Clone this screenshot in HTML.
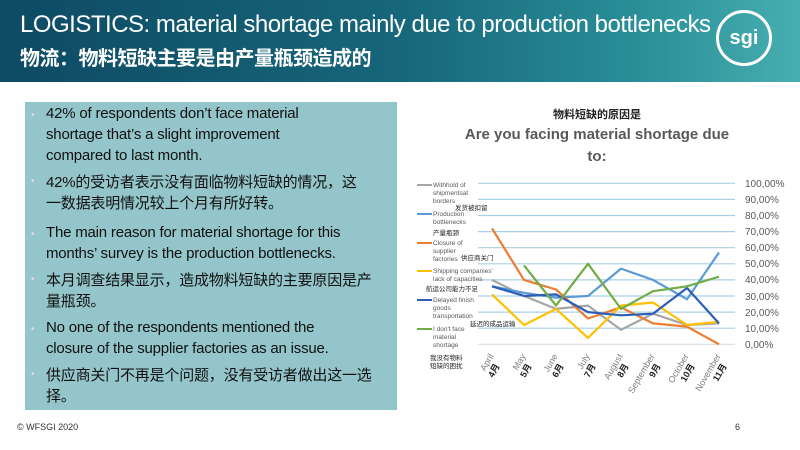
<!DOCTYPE html>
<html><head><meta charset="utf-8"><style>
body{margin:0;width:800px;height:450px;overflow:hidden;background:#fff;font-family:"Liberation Sans","Noto Sans CJK SC",sans-serif;position:relative}
.ban{position:absolute;left:0;top:0;width:800px;height:82px;background:linear-gradient(90deg,#0d4a63 0%,#17667a 50%,#2a8f98 80%,#47aeb1 100%)}
.t1{position:absolute;left:20px;top:11px;color:#fff;font-size:24px;letter-spacing:-0.5px;white-space:nowrap}
.t2{position:absolute;left:20px;top:42px;color:#fff;font-size:20px;font-weight:bold;font-family:"Noto Sans CJK SC",sans-serif;white-space:nowrap;letter-spacing:-0.5px}
.logo{position:absolute;left:716px;top:10px;width:56px;height:56px;border-radius:50%;border:3px solid #fff;box-sizing:border-box;color:#fff;font-weight:bold;font-size:20px;text-align:center;line-height:50px}
.box{position:absolute;left:25px;top:102px;width:372px;height:308px;background:#93c5ca}
.ln{position:absolute;left:46px;font-size:15px;color:#111;white-space:nowrap;letter-spacing:-0.2px}
.b{position:absolute;left:31px;font-size:10px;color:#ddd}
.foot{position:absolute;left:17px;top:422px;font-size:9px;color:#333}
</style></head><body>
<div class="ban"></div>
<div class="t1">LOGISTICS: material shortage mainly due to production bottlenecks</div>
<div class="t2">物流：物料短缺主要是由产量瓶颈造成的</div>
<div class="logo">sgi</div>
<div class="box"></div>
<div class="b" style="top:110px">•</div><div class="b" style="top:176px">•</div><div class="b" style="top:229px">•</div><div class="b" style="top:274px">•</div><div class="b" style="top:324px">•</div><div class="b" style="top:369px">•</div>
<div class="ln" style="top:105px">42% of respondents don’t face material</div>
<div class="ln" style="top:126px">shortage that’s a slight improvement</div>
<div class="ln" style="top:147px">compared to last month.</div>
<div class="ln" style="top:171px">42%的受访者表示没有面临物料短缺的情况，这</div>
<div class="ln" style="top:192px">一数据表明情况较上个月有所好转。</div>
<div class="ln" style="top:224px">The main reason for material shortage for this</div>
<div class="ln" style="top:245px">months’ survey is the production bottlenecks.</div>
<div class="ln" style="top:269px">本月调查结果显示，造成物料短缺的主要原因是产</div>
<div class="ln" style="top:290px">量瓶颈。</div>
<div class="ln" style="top:319px">No one of the respondents mentioned the</div>
<div class="ln" style="top:340px">closure of the supplier factories as an issue.</div>
<div class="ln" style="top:364px">供应商关门不再是个问题，没有受访者做出这一选</div>
<div class="ln" style="top:385px">择。</div>
<div class="foot">© WFSGI 2020</div>
<div class="foot" style="left:735px">6</div>
<svg style="position:absolute;left:0;top:0" width="800" height="450" font-family="Liberation Sans, Noto Sans CJK SC, sans-serif">
<text x="597" y="118" font-size="11" font-weight="bold" text-anchor="middle" fill="#222">物料短缺的原因是</text>
<text x="597" y="139" font-size="15" font-weight="bold" text-anchor="middle" fill="#595959">Are you facing material shortage due</text>
<text x="597" y="161" font-size="15" font-weight="bold" text-anchor="middle" fill="#595959">to:</text>
<g stroke="#a9d0e6" stroke-width="1.2">
<line x1="478" x2="735" y1="183.3" y2="183.3"/><line x1="478" x2="735" y1="199.4" y2="199.4"/><line x1="478" x2="735" y1="215.5" y2="215.5"/><line x1="478" x2="735" y1="231.6" y2="231.6"/><line x1="478" x2="735" y1="247.7" y2="247.7"/><line x1="478" x2="735" y1="263.8" y2="263.8"/><line x1="478" x2="735" y1="279.9" y2="279.9"/><line x1="478" x2="735" y1="296" y2="296"/><line x1="478" x2="735" y1="312.1" y2="312.1"/><line x1="478" x2="735" y1="328.2" y2="328.2"/><line x1="478" x2="735" y1="344.3" y2="344.3" stroke="#ddd"/>
</g>
<g font-size="10" fill="#595959">
<text x="745" y="187">100,00%</text><text x="745" y="203">90,00%</text><text x="745" y="219">80,00%</text><text x="745" y="235">70,00%</text><text x="745" y="251">60,00%</text><text x="745" y="267">50,00%</text><text x="745" y="283">40,00%</text><text x="745" y="300">30,00%</text><text x="745" y="316">20,00%</text><text x="745" y="332">10,00%</text><text x="745" y="348">0,00%</text>
</g>
<g fill="none" stroke-width="2.2" stroke-linejoin="round">
<polyline stroke="#a5a5a5" points="492,279.9 524,296 556,308.9 588,305.6 621,329.8 653,313.7 687,325 719,323.4"/>
<polyline stroke="#5b9bd5" points="492,286.3 524,292.8 556,297.6 588,296 621,268.6 653,279.9 687,299.2 719,252.5"/>
<polyline stroke="#ed7d31" points="492,228.4 524,279.9 556,289.5 588,318.5 621,307.3 653,323.4 687,326.6 719,344.3"/>
<polyline stroke="#ffc000" points="492,294.4 524,325 556,308.9 588,337.9 621,305.6 653,302.5 687,325 719,321.8"/>
<polyline stroke="#2e5fb8" points="492,286.3 524,296 556,294.4 588,312.1 621,315.3 653,313.7 687,288 719,323.4"/>
<polyline stroke="#70ad47" points="524,265.4 556,305.6 588,263.8 621,308.9 653,291.2 687,286.3 719,276.7"/>
</g>
<g font-size="6.5" fill="#595959">
<line x1="417" x2="432" y1="185" y2="185" stroke="#a5a5a5" stroke-width="2"/><text x="433" y="187">Withhold of</text><text x="433" y="195">shipmentsat</text><text x="433" y="203">borders</text>
<line x1="417" x2="432" y1="214" y2="214" stroke="#5b9bd5" stroke-width="2"/><text x="433" y="216">Production</text><text x="433" y="224">bottlenecks</text>
<line x1="417" x2="432" y1="243" y2="243" stroke="#ed7d31" stroke-width="2"/><text x="433" y="245">Closure of</text><text x="433" y="253">supplier</text><text x="433" y="261">factories</text>
<line x1="417" x2="432" y1="271" y2="271" stroke="#ffc000" stroke-width="2"/><text x="433" y="273">Shipping companies'</text><text x="433" y="281">lack of capacities</text>
<line x1="417" x2="432" y1="300" y2="300" stroke="#2e5fb8" stroke-width="2"/><text x="433" y="302">Delayed finish</text><text x="433" y="310">goods</text><text x="433" y="318">transportation</text>
<line x1="417" x2="432" y1="329" y2="329" stroke="#70ad47" stroke-width="2"/><text x="433" y="331">I don't face</text><text x="433" y="339">material</text><text x="433" y="347">shortage</text>
</g>
<g font-size="6.5" fill="#222">
<text x="455" y="210">发货被扣留</text><text x="433" y="235">产量瓶颈</text><text x="461" y="260">供应商关门</text><text x="426" y="291">航运公司能力不足</text><text x="470" y="326">延迟的成品运输</text><text x="430" y="360">我没有物料</text><text x="430" y="368">短缺的困扰</text>
</g>
<g font-size="9" fill="#7f7f7f" text-anchor="end">
<text transform="translate(494,356) rotate(-60)">April</text><text transform="translate(526,356) rotate(-60)">May</text><text transform="translate(558,356) rotate(-60)">June</text><text transform="translate(590,356) rotate(-60)">July</text><text transform="translate(623,356) rotate(-60)">August</text><text transform="translate(655,356) rotate(-60)">September</text><text transform="translate(689,356) rotate(-60)">October</text><text transform="translate(721,356) rotate(-60)">November</text>
</g>
<g font-size="9" font-weight="bold" fill="#222" text-anchor="end">
<text transform="translate(500,366) rotate(-60)">4月</text><text transform="translate(532,366) rotate(-60)">5月</text><text transform="translate(564,366) rotate(-60)">6月</text><text transform="translate(596,366) rotate(-60)">7月</text><text transform="translate(629,366) rotate(-60)">8月</text><text transform="translate(661,366) rotate(-60)">9月</text><text transform="translate(695,366) rotate(-60)">10月</text><text transform="translate(727,366) rotate(-60)">11月</text>
</g>
</svg>
</body></html>
